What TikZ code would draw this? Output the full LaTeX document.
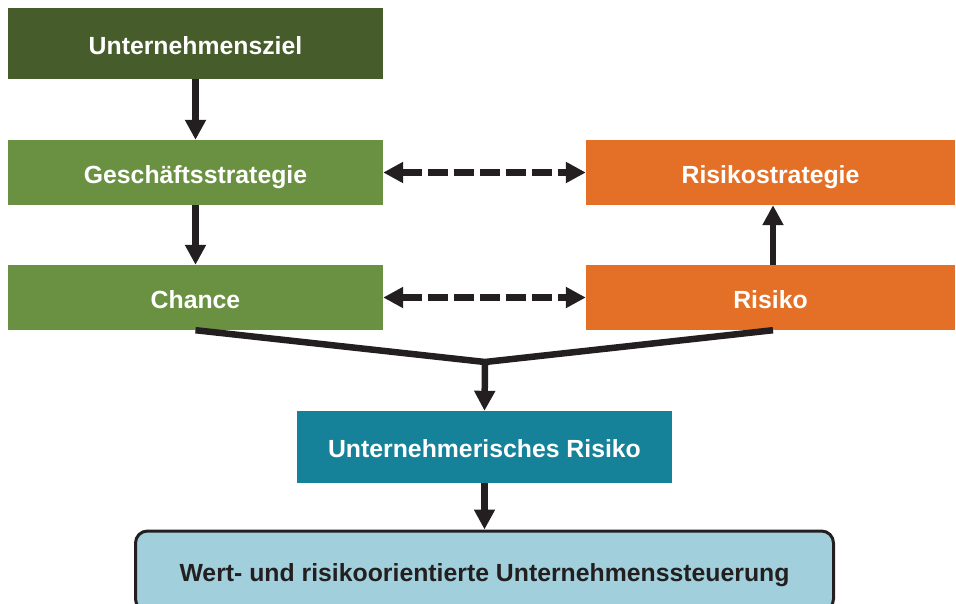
\documentclass[tikz,border=0pt]{standalone}
\usepackage{fontspec}
\setmainfont{Liberation Sans}
\usetikzlibrary{arrows.meta}
\definecolor{dgreen}{HTML}{475C2B}
\definecolor{mgreen}{HTML}{6A9142}
\definecolor{orng}{HTML}{E37026}
\definecolor{teal2}{HTML}{158299}
\definecolor{lblue}{HTML}{A1CFDC}
\definecolor{ink}{HTML}{231F20}
\tikzset{
  box/.style={draw=none, minimum width=375pt, minimum height=65pt, inner sep=0pt,
    text=white, font=\fontsize{24.8}{28}\selectfont\bfseries,
    text height=21pt, text depth=0pt},
  conn/.style={draw=ink, line width=6.5pt, -{Triangle[length=20pt,width=20pt]}},
  dconn/.style={draw=ink, line width=6.5pt, dash pattern=on 20pt off 6pt,
    {Triangle[length=20pt,width=20pt]}-{Triangle[length=20pt,width=20pt]}},
  merge/.style={draw=ink, line width=6.5pt}
}
\begin{document}
\begin{tikzpicture}[x=1pt,y=-1pt]
\useasboundingbox (0,0) rectangle (956,603);
\node[box, fill=dgreen, minimum height=71pt] (ziel) at (195.5,43.5) {Unternehmensziel};
\node[box, fill=mgreen] (gs) at (195.5,172.5) {Geschäftsstrategie};
\node[box, fill=mgreen] (chance) at (195.5,297.5) {Chance};
\node[box, fill=orng, minimum width=369pt] (rs) at (770.5,172.5) {Risikostrategie};
\node[box, fill=orng, minimum width=369pt] (risiko) at (770.5,297.5) {Risiko};
\node[box, fill=teal2, minimum height=72pt] (ur) at (484.5,447) {Unternehmerisches Risiko};
\node[box, fill=lblue, draw=ink, line width=3pt, rounded corners=12pt, text=ink,
  minimum width=698pt, minimum height=80pt] (wr) at (484.5,571) {Wert- und risikoorientierte Unternehmenssteuerung};
\coordinate (m) at (485,362);
\draw[conn] (ziel.south) -- (gs.north);
\draw[conn] (gs.south) -- (chance.north);
\draw[conn] ([xshift=2.5pt]risiko.north) -- ([xshift=2.5pt]rs.south);
\draw[dconn] (gs.east) -- (rs.west);
\draw[dconn] (chance.east) -- (risiko.west);
\draw[merge] (chance.south) -- (m) -- ([xshift=2.5pt]risiko.south);
\draw[conn] ([yshift=-3pt]m) -- (ur.north);
\draw[conn] (ur.south) -- (wr.north);
\end{tikzpicture}
\end{document}
